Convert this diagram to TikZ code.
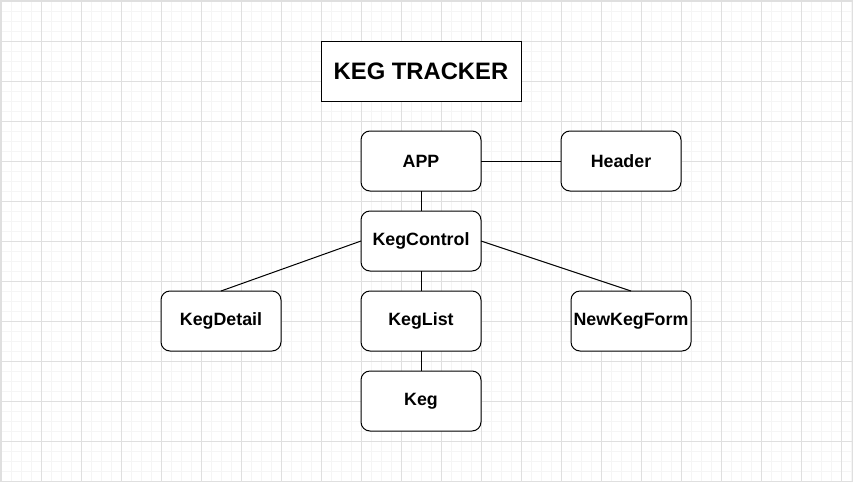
\documentclass[tikz,border=0pt]{standalone}
\usepackage{fontspec}
\setmainfont{Liberation Sans}
\usetikzlibrary{positioning}
\definecolor{gridminor}{HTML}{F5F5F5}
\definecolor{gridmajor}{HTML}{DFDFDF}

\begin{document}
\begin{tikzpicture}[x=1pt, y=-1pt,
    comp/.style={draw, fill=white, rounded corners=9pt, line width=1pt,
      minimum width=120pt, minimum height=60pt, inner sep=0pt, outer sep=0pt,
      font=\fontsize{17.8}{20}\selectfont\bfseries},
    titlebox/.style={draw, fill=white, line width=1pt,
      minimum width=200pt, minimum height=60pt, inner sep=0pt, outer sep=0pt,
      font=\fontsize{23.8}{26}\selectfont\bfseries},
    link/.style={line width=1pt},
    node distance=20pt]
      \useasboundingbox (0,0) rectangle (853,482);
      % Background grid
      \foreach \x in {1,11,...,851} \draw[gridminor, line width=1pt] (\x,0) -- (\x,482);
      \foreach \y in {1,11,...,481} \draw[gridminor, line width=1pt] (0,\y) -- (853,\y);
      \foreach \x in {1,41,...,841} \draw[gridmajor, line width=1pt] (\x,0) -- (\x,482);
      \foreach \y in {1,41,...,481} \draw[gridmajor, line width=1pt] (0,\y) -- (853,\y);
      \draw[gridmajor, line width=1pt] (0.5,0.5) rectangle (852.5,481.5);
      % Define nodes
      \node[comp] (app) at (421,161) {APP};
      \node[titlebox, above=30pt of app] (title) {KEG TRACKER};
      \node[comp, right=80pt of app] (header) {Header};
      \node[comp, below=of app] (kegcontrol) {KegControl};
      \node[comp, below=of kegcontrol] (keglist) {KegList};
      \node[comp, below=of keglist] (keg) {Keg};
      \node[comp, left=80pt of keglist] (kegdetail) {KegDetail};
      \node[comp, right=90pt of keglist] (newkegform) {NewKegForm};
      % Connect the nodes
      \draw[link] (app) -- (header);
      \draw[link] (app) -- (kegcontrol);
      \draw[link] (kegcontrol) -- (keglist);
      \draw[link] (keglist) -- (keg);
      \draw[link] (kegcontrol.west) -- (kegdetail.north);
      \draw[link] (kegcontrol.east) -- (newkegform.north);
\end{tikzpicture}
\end{document}
